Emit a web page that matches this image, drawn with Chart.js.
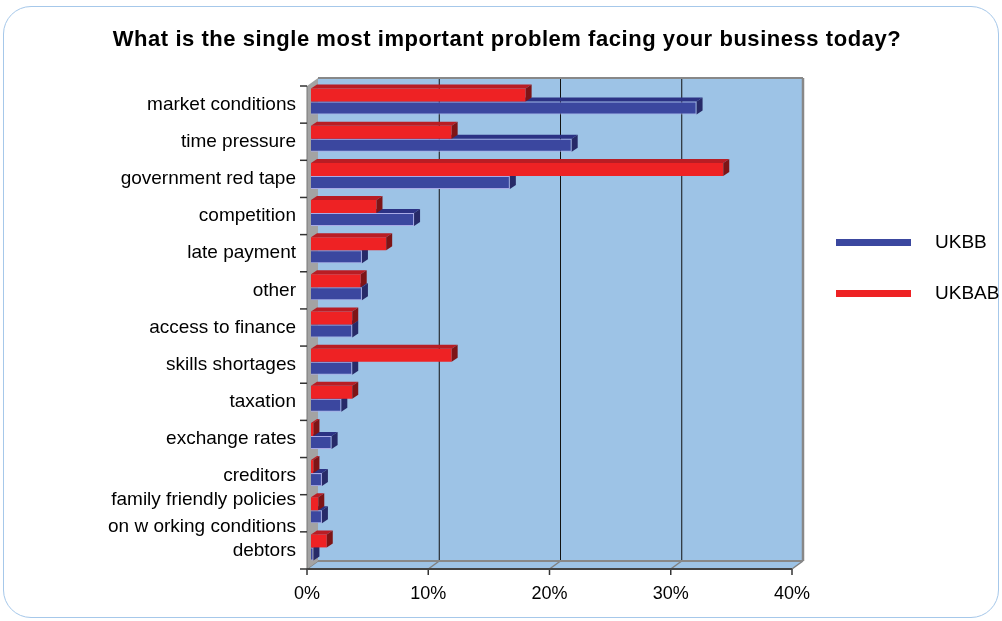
<!DOCTYPE html>
<html>
<head>
<meta charset="utf-8">
<script src="https://cdn.jsdelivr.net/npm/chart.js@4/dist/chart.umd.min.js"></script>
<style>
    body { margin: 0; background: #fff; font-family: 'Liberation Sans', Arial, sans-serif; }
    #wrap { position: relative; width: 1002px; height: 621px; overflow: hidden; }
    #frame {
        position: absolute; left: 3px; top: 6px; width: 996px; height: 612px;
        box-sizing: border-box; border: 1.5px solid #a6c8ea; border-radius: 28px;
    }
    #title {
        position: absolute; left: 6px; top: 27px; width: 1002px; text-align: center;
        font-weight: bold; font-size: 22px; line-height: 24px; letter-spacing: 0.55px; color: #000;
    }
    .leg { position: absolute; left: 836px; height: 20px; display: flex; align-items: center; font-size: 19px; color: #000; }
    .leg span.bar { display: inline-block; width: 75px; height: 7px; margin-right: 24px; }
    canvas { position: absolute; left: 0; top: 0; }
</style>
</head>
<body>
<div id="wrap">
    <div id="frame"></div>
    <canvas id="chart" width="1002" height="621"></canvas>
    <div id="title">What is the single most important problem facing your business today?</div>
    <div class="leg" style="top:232px"><span class="bar" style="background:#3b479f"></span>UKBB</div>
    <div class="leg" style="top:283px"><span class="bar" style="background:#ee2224"></span>UKBAB</div>
</div>
<script>
// данные с картинки (%)
const categories = [
    'market conditions', 'time pressure', 'government red tape', 'competition',
    'late payment', 'other', 'access to finance', 'skills shortages', 'taxation',
    'exchange rates', 'creditors', ['family friendly policies', 'on w orking conditions'], 'debtors'
];
const ukbb  = [31.8, 21.5, 16.4, 8.5, 4.2, 4.2, 3.4, 3.4, 2.5, 1.7, 0.9, 0.9, 0.2];
const ukbab = [17.7, 11.6, 34.0, 5.4, 6.2, 4.1, 3.4, 11.6, 3.4, 0.2, 0.2, 0.6, 1.3];
const xTicks = [0, 10, 20, 30, 40];

// сдвиги для псевдо-3D: передняя плоскость и задняя стенка
const FX = -4, FY = 3, BX = 7, BY = -5;

function poly(ctx, pts, fill) {
    ctx.beginPath();
    ctx.moveTo(pts[0][0], pts[0][1]);
    pts.slice(1).forEach(p => ctx.lineTo(p[0], p[1]));
    ctx.closePath();
    ctx.fillStyle = fill;
    ctx.fill();
}

function line(ctx, x1, y1, x2, y2, color, w) {
    ctx.beginPath();
    ctx.moveTo(x1, y1);
    ctx.lineTo(x2, y2);
    ctx.strokeStyle = color;
    ctx.lineWidth = w;
    ctx.stroke();
}

const walls = {
    id: 'walls',
    beforeDatasetsDraw(chart) {
        const { ctx, chartArea: a, scales: { x, y } } = chart;
        ctx.save();
        // задняя стенка и пол
        ctx.fillStyle = '#9dc3e6';
        ctx.fillRect(a.left + BX, a.top + BY, a.width, a.height);
        poly(ctx, [[a.left + FX, a.bottom + FY], [a.left + BX, a.bottom + BY],
                   [a.right + BX, a.bottom + BY], [a.right + FX, a.bottom + FY]], '#9dc3e6');

        xTicks.forEach(v => {
            const px = x.getPixelForValue(v);
            if (v > 0 && v < 40) line(ctx, px + BX, a.top + BY, px + BX, a.bottom + BY, '#111', 1);
            line(ctx, px + FX, a.bottom + FY, px + BX, a.bottom + BY, '#808080', 1.5);
            line(ctx, px + FX, a.bottom + FY, px + FX, a.bottom + FY + 6, '#333', 1.5);
        });
        // контур стенки
        line(ctx, a.left + BX, a.top + BY, a.right + BX, a.top + BY, '#888', 2);
        line(ctx, a.right + BX, a.top + BY, a.right + BX, a.bottom + BY, '#888', 2.5);
        line(ctx, a.left + BX, a.bottom + BY, a.right + BX, a.bottom + BY, '#888', 2);

        // левая стенка
        poly(ctx, [[a.left + FX, a.top + FY], [a.left + BX, a.top + BY],
                   [a.left + BX, a.bottom + BY], [a.left + FX, a.bottom + FY]], '#a3a3a3');
        line(ctx, a.left + FX, a.top + FY, a.left + FX, a.bottom + FY, '#777', 1);
        line(ctx, a.left + FX, a.bottom + FY, a.right + FX, a.bottom + FY, '#444', 2);

        // риски на оси категорий
        for (let i = 0; i <= categories.length; i++) {
            const py = y.getPixelForValue(i - 0.5) + FY;
            line(ctx, a.left + FX - 7, py, a.left + FX, py, '#333', 1.5);
        }
        ctx.restore();
    },
    afterDatasetDraw(chart, args) {
        const ctx = chart.ctx;
        const ds = chart.data.datasets[args.index];
        const dx = 6, dy = 4;
        ctx.save();
        args.meta.data.forEach(bar => {
            const { x, y, base, height } = bar.getProps(['x', 'y', 'base', 'height'], true);
            const t = y - height / 2, b = y + height / 2;
            poly(ctx, [[base, t], [base + dx, t - dy], [x + dx, t - dy], [x, t]], ds.topColor);
            poly(ctx, [[x, t], [x + dx, t - dy], [x + dx, b - dy], [x, b]], ds.sideColor);
        });
        ctx.restore();
    }
};

new Chart(document.getElementById('chart'), {
    type: 'bar',
    data: {
        labels: categories,
        datasets: [{
            label: 'UKBAB',
            data: ukbab,
            backgroundColor: '#ee2224',
            borderWidth: 0,
            topColor: '#b91d24',
            sideColor: '#7e1416'
        }, {
            label: 'UKBB',
            data: ukbb,
            backgroundColor: '#3b479f',
            borderColor: '#a9aae6',
            borderWidth: 1,
            topColor: '#2c3284',
            sideColor: '#272a68'
        }]
    },
    options: {
        indexAxis: 'y',
        responsive: false,
        animation: false,
        categoryPercentage: 0.7,
        barPercentage: 1,
        layout: { padding: { top: 83, right: 206, bottom: 0, left: 0 } },
        plugins: {
            legend: { display: false },
            title: { display: false },
            tooltip: { enabled: false }
        },
        scales: {
            x: {
                min: 0,
                max: 40,
                afterFit: s => { s.height = 55; },
                grid: { display: false, drawTicks: false },
                border: { display: false },
                afterBuildTicks: s => { s.ticks = xTicks.map(v => ({ value: v })); },
                ticks: {
                    padding: 17,
                    labelOffset: FX,
                    color: '#000',
                    font: { family: "'Liberation Sans', Arial, sans-serif", size: 18 },
                    callback: v => v + '%'
                }
            },
            y: {
                afterFit: s => { s.width = 311; },
                grid: { display: false, drawTicks: false },
                border: { display: false },
                ticks: {
                    autoSkip: false,
                    padding: 15,
                    labelOffset: FY,
                    color: '#000',
                    font: { family: "'Liberation Sans', Arial, sans-serif", size: 19, lineHeight: 1.37 }
                }
            }
        }
    },
    plugins: [walls]
});
</script>
</body>
</html>
